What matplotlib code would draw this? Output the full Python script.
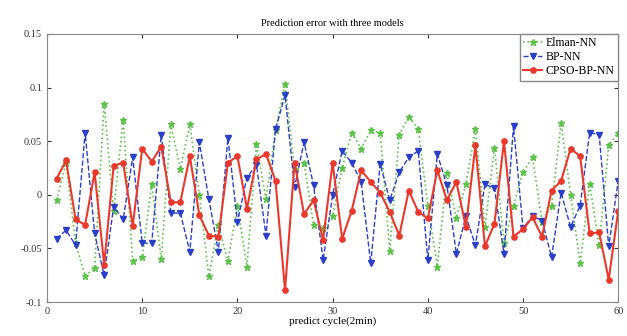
import numpy as np
import matplotlib
matplotlib.use('Agg')
import matplotlib.pyplot as plt

# prediction cycles 1..60
ciclo = list(range(1, 61))

elman = [-0.005, 0.030, -0.045, -0.076, -0.068, 0.085, -0.015, 0.070, -0.062, -0.058,
         0.010, -0.060, 0.066, 0.024, 0.066, 0.000, -0.076, -0.028, -0.062, -0.010,
         -0.067, 0.047, -0.004, 0.060, 0.103, 0.024, 0.030, -0.028, -0.031, -0.020,
         0.025, 0.058, 0.043, 0.060, 0.058, -0.052, 0.056, 0.073, 0.061, -0.010,
         -0.067, 0.020, -0.022, 0.010, 0.061, -0.030, 0.044, -0.045, -0.010, 0.021,
         0.035, -0.025, -0.010, 0.067, 0.000, -0.064, 0.010, -0.047, 0.046, 0.058]

bp = [-0.041, -0.033, -0.047, 0.058, -0.036, -0.075, -0.011, -0.023, 0.035, -0.045,
      -0.045, 0.056, -0.017, -0.017, -0.053, 0.049, -0.004, -0.053, 0.053, -0.025,
      0.016, 0.028, -0.038, 0.061, 0.093, 0.007, 0.049, 0.009, -0.061, 0.000,
      0.041, 0.030, 0.012, -0.064, 0.029, -0.005, 0.021, 0.035, 0.041, -0.061,
      0.038, 0.009, -0.055, -0.020, -0.047, 0.010, 0.006, -0.055, 0.064, -0.031,
      -0.020, -0.024, -0.058, 0.002, -0.030, -0.010, 0.058, 0.056, -0.048, 0.013]

cpso = [0.015, 0.032, -0.023, -0.028, 0.021, -0.065, 0.027, 0.030, -0.029, 0.043,
        0.031, 0.045, -0.007, -0.007, 0.036, -0.019, -0.038, -0.039, 0.030, 0.036,
        -0.013, 0.033, 0.038, 0.013, -0.089, 0.030, -0.018, -0.005, -0.042, 0.030,
        -0.041, -0.015, 0.023, 0.012, 0.002, -0.016, -0.038, 0.004, -0.016, -0.022,
        0.023, -0.005, 0.012, -0.030, 0.046, -0.048, -0.027, 0.050, -0.039, -0.032,
        -0.021, -0.039, 0.004, 0.013, 0.043, 0.036, -0.036, -0.035, -0.079, -0.015]

yticks = [-0.1, -0.05, 0, 0.05, 0.1, 0.15]
ytick_labels = ['-0.1', '-0.05', '0', '0.05', '0.1', '0.15']

plt.rcParams['font.family'] = ['Liberation Serif', 'DejaVu Serif']
plt.rc('font', size=7.5)

fig = plt.figure(figsize=(6.27, 3.36), dpi=100)
ax = fig.add_axes([0.075, 0.101, 0.911, 0.798])

ax.plot(ciclo, elman, ':*', color='#5cc24a', lw=1.2, ms=4.5, label='Elman-NN')
ax.plot(ciclo, bp, '--v', color='#2a3fc8', lw=1.0, ms=4.5, label='BP-NN')
ax.plot(ciclo, cpso, '-o', color='#e8392c', lw=1.5, ms=3.8, label='CPSO-BP-NN')

ax.set_xlim(0, 60)
ax.set_ylim(-0.1, 0.15)
ax.set_xticks(range(0, 61, 10))
ax.set_yticks(yticks)
ax.set_yticklabels(ytick_labels)
ax.tick_params(direction='in', top=True, right=True, length=3, colors='#333333')
for s in ax.spines.values():
    s.set_color('#888888')
    s.set_linewidth(0.8)

ax.set_title('Prediction error with three models', fontsize=7.5, pad=6)
ax.set_xlabel('predict cycle(2min)', fontsize=8, labelpad=0)
leg = ax.legend(loc='upper right', fontsize=8.5, fancybox=False, framealpha=1,
                edgecolor='#888888', borderpad=0.3, borderaxespad=0,
                handlelength=1.6, handletextpad=0.3, labelspacing=0.15)

fig.savefig('out.png', dpi=100)
